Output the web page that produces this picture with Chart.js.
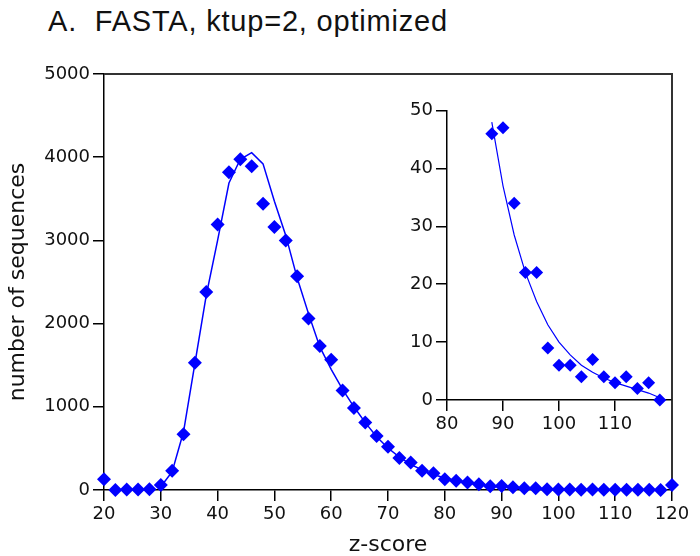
<!DOCTYPE html>
<html><head><meta charset="utf-8">
<script src="https://cdn.jsdelivr.net/npm/chart.js@4.4.0/dist/chart.umd.min.js"></script>
<style>
html,body{margin:0;padding:0;background:#fff;}
#wrap{position:relative;width:700px;height:556px;overflow:hidden;background:#fff;}
#title{position:absolute;left:48px;top:7px;font-family:"Liberation Sans",Arial,sans-serif;font-size:29px;line-height:1;letter-spacing:0.8px;color:#111;white-space:nowrap;}
#main{position:absolute;left:0;top:0;}
#inset{position:absolute;left:380px;top:95px;}
</style></head><body>
<div id="wrap">
<div id="title">A.&nbsp;&nbsp;FASTA, ktup=2, optimized</div>
<canvas id="main" width="700" height="556"></canvas>
<canvas id="inset" width="320" height="345"></canvas>
</div>
<script>
// observed histogram (z-score bins, number of sequences)
const zScores = [20,22,24,26,28,30,32,34,36,38,40,42,44,46,48,50,52,54,56,58,60,62,64,66,68,70,72,74,76,78,80,82,84,86,88,90,92,94,96,98,100,102,104,106,108,110,112,114,116,118,120];
const counts  = [130,0,5,5,10,60,230,670,1530,2380,3190,3820,3975,3890,3440,3160,3000,2570,2060,1730,1565,1195,985,810,650,520,385,330,230,200,130,110,90,70,46,47,34,22,22,9,6,6,4,7,4,3,4,2,3,0,60];
// fitted curve
const fitZ      = [30,32,34,36,38,40,42,44,46,48,50,52,54,56,58,60,62,64,66,68,70,72,74,76,78,80,82,84,86,88,90,92,94,96,98,100,102,104,106,108,110,112,114,116,118];
const fitCounts = [40,220,700,1520,2340,3000,3690,3975,4054,3920,3470,3060,2550,2120,1720,1450,1210,1000,810,640,505,395,308,240,186,144,112,87,66,48,37,28.5,22,17,13,10,7.8,6,4.8,3.8,3.0,2.4,1.8,1.2,0.4];
// tick labels
const mainXTicks  = [20,30,40,50,60,70,80,90,100,110,120];
const mainYTicks  = [0,1000,2000,3000,4000,5000];
const insetXTicks = [80,90,100,110];
const insetYTicks = [0,10,20,30,40,50];
const insetFrom = 88, insetTo = 118;

const BLUE = '#0000ff';
const tickFont = {family:'DejaVu Sans', size:18};
const titleFont = {family:'DejaVu Sans', size:22};

function pts(xs, ys, lo, hi){
  const out = [];
  xs.forEach((x,i)=>{ if(x>=lo && x<=hi) out.push({x:x, y:ys[i]}); });
  return out;
}
function axis(min, max, ticks, extra){
  return Object.assign({
    type:'linear', min:min, max:max,
    afterBuildTicks: s => { s.ticks = ticks.map(v=>({value:v})); },
    grid:{drawOnChartArea:false, drawTicks:true, tickLength:11, color:'#000', lineWidth:1.5},
    border:{display:true, color:'#000', width:1.5},
    ticks:{font:tickFont, color:'#111', maxRotation:0, autoSkip:false, callback: v => String(v)}
  }, extra);
}

const framePlugin = {
  id:'frame',
  beforeDatasetsDraw(chart){
    const {ctx, chartArea:a} = chart;
    ctx.save();
    ctx.strokeStyle = '#333';
    ctx.lineWidth = 2;
    ctx.beginPath();
    ctx.moveTo(a.left, a.top);
    ctx.lineTo(a.right, a.top);
    ctx.lineTo(a.right, a.bottom);
    ctx.stroke();
    ctx.restore();
  }
};

new Chart(document.getElementById('main'), {
  type:'scatter',
  data:{datasets:[
    {data: pts(zScores, counts, -Infinity, Infinity), pointStyle:'rectRot', pointRadius:7, pointBackgroundColor:BLUE, pointBorderColor:BLUE, pointBorderWidth:0, showLine:false, clip:false},
    {data: pts(fitZ, fitCounts, -Infinity, Infinity), showLine:true, pointRadius:0, borderColor:BLUE, borderWidth:1.5, tension:0, fill:false}
  ]},
  options:{
    responsive:false, animation:false, devicePixelRatio:1,
    layout:{padding:{top:74, right:28, left:0, bottom:0}},
    plugins:{legend:{display:false}, tooltip:{enabled:false}, title:{display:false}},
    scales:{
      x: axis(20, 120, mainXTicks, {
        afterFit: s => { s.height = 66; },
        title:{display:true, text:'z-score', font:titleFont, color:'#111', padding:{top:0, bottom:-2}}
      }),
      y: axis(0, 5000, mainYTicks, {
        afterFit: s => { s.width = 104; },
        title:{display:true, text:'number of sequences', font:titleFont, color:'#111', padding:{top:5, bottom:0}}
      })
    }
  },
  plugins:[framePlugin]
});

new Chart(document.getElementById('inset'), {
  type:'scatter',
  data:{datasets:[
    {data: pts(zScores, counts, insetFrom, insetTo), pointStyle:'rectRot', pointRadius:6.5, pointBackgroundColor:BLUE, pointBorderColor:BLUE, pointBorderWidth:0, showLine:false, clip:false},
    {data: pts(fitZ, fitCounts, insetFrom, insetTo), showLine:true, pointRadius:0, borderColor:BLUE, borderWidth:1.2, tension:0, fill:false}
  ]},
  options:{
    responsive:false, animation:false, devicePixelRatio:1,
    layout:{padding:{top:15.5, right:29, left:0, bottom:0}},
    plugins:{legend:{display:false}, tooltip:{enabled:false}, title:{display:false}},
    scales:{
      x: axis(80, 120, insetXTicks, { afterFit: s => { s.height = 40; } }),
      y: axis(0, 50, insetYTicks, { afterFit: s => { s.width = 67; } })
    }
  }
});
</script>
</body></html>
